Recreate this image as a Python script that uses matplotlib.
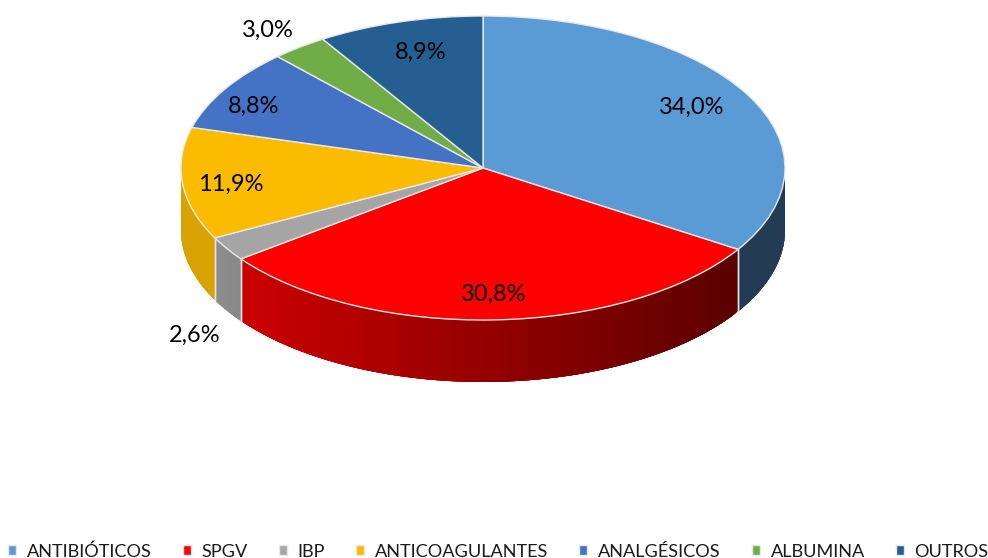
import numpy as np
import matplotlib
matplotlib.use('Agg')
import matplotlib.pyplot as plt
from matplotlib.collections import PolyCollection

plt.rcParams['font.family'] = ['Lato', 'DejaVu Sans']

categories = ['ANTIBIÓTICOS', 'SPGV', 'IBP', 'ANTICOAGULANTES', 'ANALGÉSICOS', 'ALBUMINA', 'OUTROS']
values = [34.0, 30.8, 2.6, 11.9, 8.8, 3.0, 8.9]
colors = ['#5B9BD5', '#FF0000', '#A5A5A5', '#FBBC00', '#4472C4', '#70AD47', '#255E91']
# side shading of each slice, left end and right end of the visible wall
side_shade = [(0.39, 0.39), (0.80, 0.36), (0.86, 0.82), (0.86, 0.86), (1, 1), (1, 1), (1, 1)]
# label centres in pixels
label_pos = [(692, 107), (494, 294), (195, 335), (231, 184), (254, 106), (268, 30), (421, 52)]

W, H = 988, 558
cx, cy, rx, ry, depth = 483, 168, 302, 152, 62


def px(x, y):
    return (x - cx) / rx, (cy - y) / ry


fig = plt.figure(figsize=(W / 100, H / 100), dpi=100)
ax = fig.add_axes([0, 0, 1, 1])

# walls first, the pie goes on top of them
d = depth / ry
edges = np.concatenate([[0], np.cumsum(values)]) / sum(values) * 360
for i, col in enumerate(colors):
    t0, t1 = max(edges[i], 90), min(edges[i + 1], 270)
    if t1 <= t0:
        continue
    t = np.radians(np.linspace(t0, t1, 160))
    xs, ys = np.sin(t), np.cos(t)
    rgb = np.array(matplotlib.colors.to_rgb(col))
    polys, fc = [], []
    for k in range(len(t) - 1):
        # each strip overlaps the next ones so no seams show
        e = min(k + 4, len(t) - 1)
        polys.append([(xs[k], ys[k]), (xs[k + 1], ys[k + 1]), (xs[e], ys[e]),
                      (xs[e], ys[e] - d), (xs[k + 1], ys[k + 1] - d), (xs[k], ys[k] - d)])
        u = (xs[k] - xs.min()) / (xs.max() - xs.min())
        fc.append(rgb * (side_shade[i][0] + (side_shade[i][1] - side_shade[i][0]) * u))
    ax.add_collection(PolyCollection(polys, facecolors=fc, edgecolors='none'))
    for a in (t0, t1):
        if 90 < a < 270:
            r = np.radians(a)
            ax.plot([np.sin(r)] * 2, [np.cos(r), np.cos(r) - d], color='#E4E4E4', lw=1)

wedges, _ = ax.pie(values, colors=colors, startangle=90, counterclock=False, radius=1,
                   wedgeprops=dict(edgecolor='#E8E8E8', linewidth=1))
ax.set_aspect('auto')
ax.set_xlim(px(0, 0)[0], px(W, 0)[0])
ax.set_ylim(px(0, H)[1], px(0, 0)[1])

for v, p in zip(values, label_pos):
    x, y = px(*p)
    ax.text(x, y, f'{v:.1f}%'.replace('.', ','), fontsize=17, color='black', ha='center', va='center')

ax.legend(wedges, categories, ncol=7, loc='lower center', bbox_to_anchor=(0.5045, -0.019), frameon=False,
          fontsize=13.1, handlelength=0.42, handleheight=0.42, handletextpad=0.6, columnspacing=1.72,
          borderpad=0, labelcolor='#1A1A1A')

fig.savefig('out.png', dpi=100)
